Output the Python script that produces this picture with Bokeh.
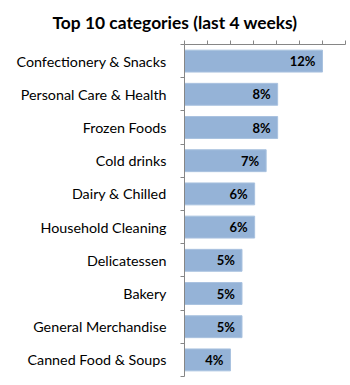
from bokeh.plotting import figure
from bokeh.models import ColumnDataSource, Range1d, LinearAxis, FixedTicker, Title
from bokeh.core.properties import value
from bokeh.embed import file_html
from bokeh.resources import INLINE

categories = ["Confectionery & Snacks", "Personal Care & Health", "Frozen Foods",
              "Cold drinks", "Dairy & Chilled", "Household Cleaning", "Delicatessen",
              "Bakery", "General Merchandise", "Canned Food & Soups"]
shares = [12.0, 8.1, 8.1, 7.1, 6.1, 6.1, 5.0, 5.0, 5.0, 4.0]
share_labels = ["12%", "8%", "8%", "7%", "6%", "6%", "5%", "5%", "5%", "4%"]
x_ticks = [0, 2, 4, 6, 8, 10, 12, 14]

n = len(categories)
pos = [i + 0.5 for i in range(n)]
src = ColumnDataSource(dict(cat=categories, share=shares, lab=share_labels, y=pos))

FONT = "Lato"
p = figure(width=350, height=385, output_backend="svg", toolbar_location=None,
           x_range=Range1d(0, 14), y_range=Range1d(n, 0),
           x_axis_location=None, y_axis_location=None,
           min_border_left=184, min_border_right=5, min_border_top=44, min_border_bottom=9)
p.outline_line_color = None
p.grid.visible = False
p.background_fill_color = "white"
p.border_fill_color = "white"

p.hbar(y="y", right="share", left=0, height=0.66, source=src,
       fill_color="#95B3D7", line_color="#A9C2DF", line_width=1)
p.text(x="share", y="y", text="lab", source=src, x_offset=-7,
       text_align="right", text_baseline="middle",
       text_font=value(FONT), text_font_style="bold", text_font_size="13px",
       text_color="#000000")

left = LinearAxis(ticker=FixedTicker(ticks=pos, minor_ticks=list(range(n + 1))))
left.major_label_overrides = {pv: c for pv, c in zip(pos, categories)}
left.major_tick_line_color = None
left.major_tick_in = 0
left.major_tick_out = 0
left.minor_tick_in = 0
left.minor_tick_out = 4
left.minor_tick_line_color = "#868686"
left.axis_line_color = "#868686"
left.major_label_standoff = 14
left.major_label_text_font = FONT
left.major_label_text_font_size = "14.3px"
left.major_label_text_color = "#000000"
p.add_layout(left, "left")

top = LinearAxis(ticker=FixedTicker(ticks=x_ticks))
top.major_label_text_color = None
top.major_label_text_font_size = "1px"
top.major_label_standoff = 0
top.major_tick_in = 0
top.major_tick_out = 4
top.major_tick_line_color = "#868686"
top.minor_tick_line_color = None
top.axis_line_color = "#868686"
p.add_layout(top, "above")

p.title = Title(text="Top 10 categories (last 4 weeks)", align="left", offset=-132,
                standoff=16, text_font=FONT, text_font_style="bold",
                text_font_size="17.4px", text_color="#000000")

open("out.html", "w").write(file_html(p, INLINE))
